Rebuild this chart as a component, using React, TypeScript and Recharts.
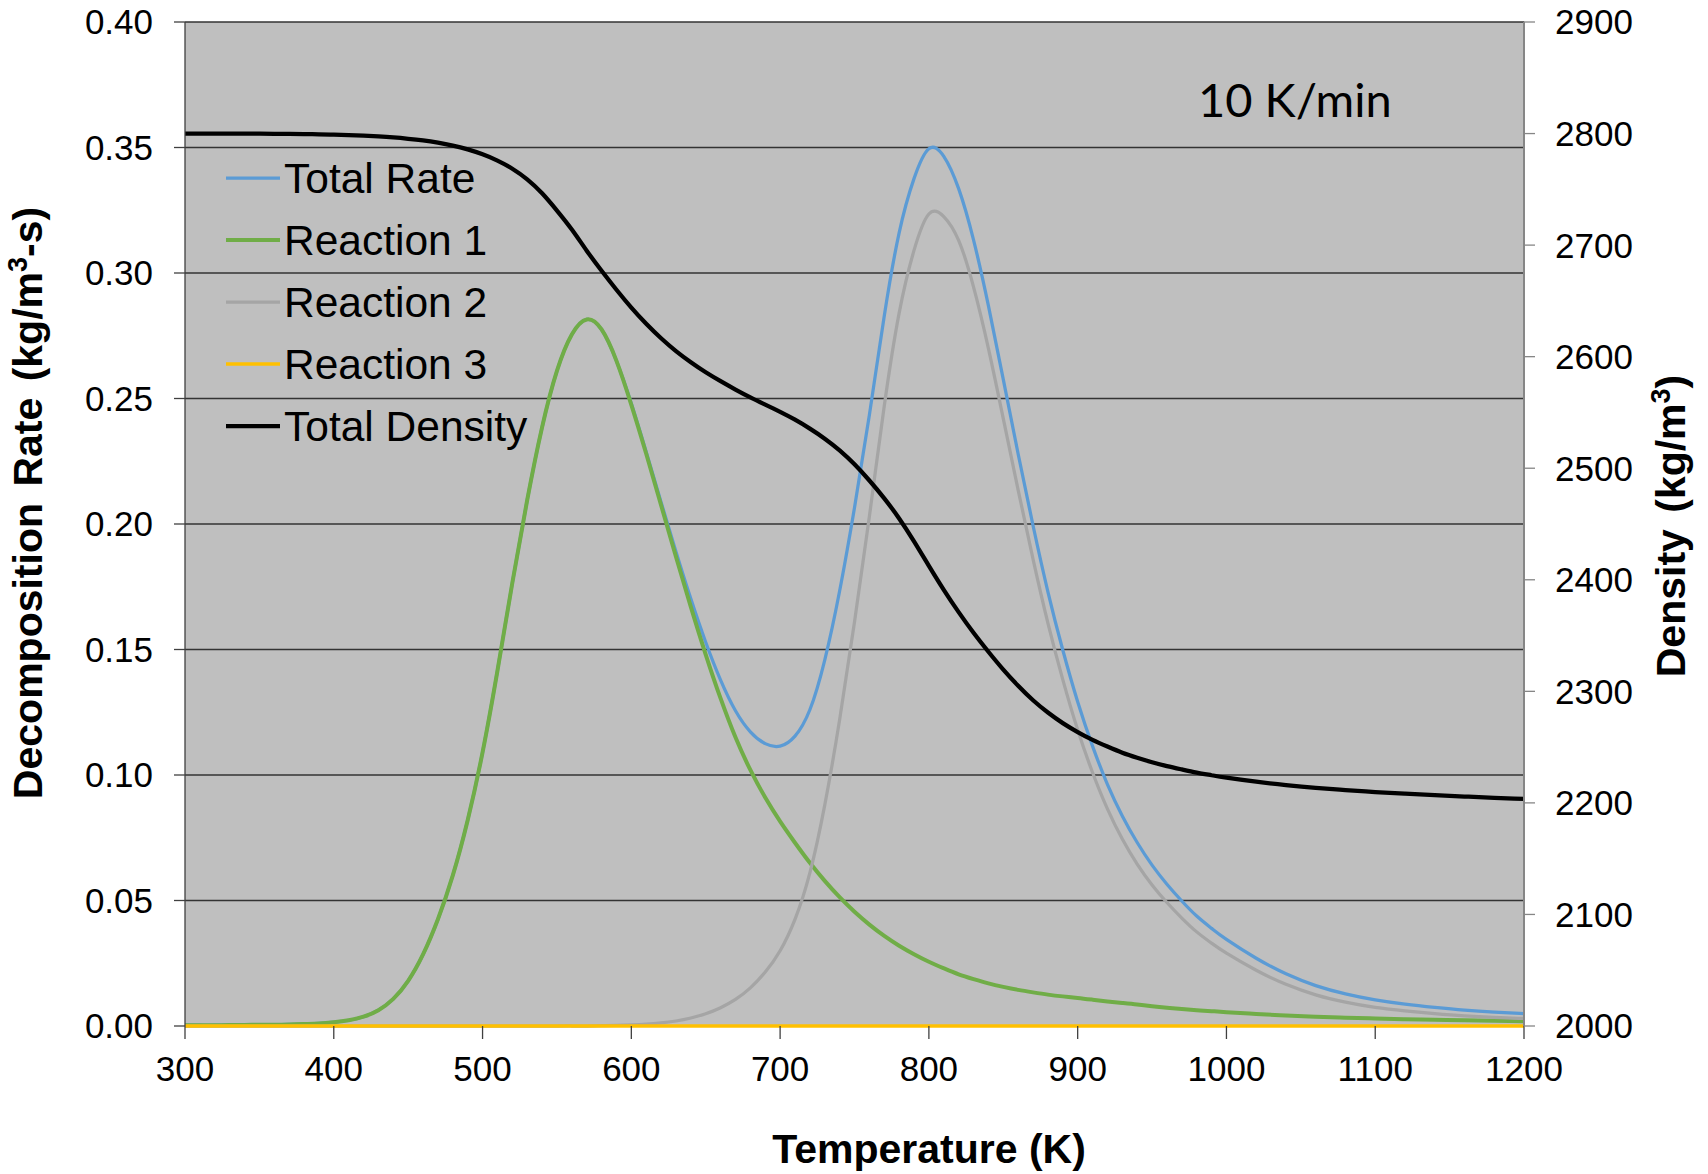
import { ComposedChart, Line, XAxis, YAxis, CartesianGrid, Label, Customized } from 'recharts'

// temperature grid (K)
const temps = [
  300, 310, 320, 330, 340, 350, 360, 370, 380, 390, 400, 410, 420, 430, 440, 450, 460, 470, 480, 490,
  500, 510, 520, 530, 540, 550, 560, 570, 580, 590, 600, 610, 620, 630, 640, 650, 660, 670, 680, 690,
  700, 710, 720, 730, 740, 750, 760, 770, 780, 790, 800, 810, 820, 830, 840, 850, 860, 870, 880, 890,
  900, 910, 920, 930, 940, 950, 960, 970, 980, 990, 1000, 1020, 1040, 1060, 1080, 1100, 1120, 1140,
  1160, 1180, 1200,
]

// kg/m3-s
const totalRate = [
  0.0003, 0.0003, 0.0003, 0.0004, 0.0004, 0.0005, 0.0005, 0.0006, 0.0008, 0.001, 0.0015, 0.0023, 0.0037,
  0.0063, 0.0108, 0.018, 0.0285, 0.0425, 0.06, 0.082, 0.109, 0.1415, 0.1765, 0.2095, 0.2385, 0.261, 0.2755,
  0.2815, 0.2775, 0.265, 0.248, 0.2287, 0.2087, 0.189, 0.1702, 0.1529, 0.1378, 0.1256, 0.1172, 0.1125,
  0.1115, 0.1155, 0.126, 0.1458, 0.1733, 0.2065, 0.2434, 0.2829, 0.316, 0.3376, 0.3495, 0.3465, 0.3336,
  0.3132, 0.287, 0.2576, 0.2279, 0.1994, 0.173, 0.1498, 0.1292, 0.1115, 0.0963, 0.0837, 0.0731, 0.0641,
  0.0565, 0.0498, 0.0438, 0.0389, 0.0345, 0.027, 0.0208, 0.0161, 0.0128, 0.0104, 0.0087, 0.0074, 0.0063,
  0.0055, 0.0049,
]

const reaction1 = [
  0.0003, 0.0003, 0.0003, 0.0004, 0.0004, 0.0005, 0.0005, 0.0006, 0.0008, 0.001, 0.0015, 0.0023, 0.0037,
  0.0063, 0.0108, 0.018, 0.0285, 0.0425, 0.06, 0.082, 0.109, 0.1415, 0.1765, 0.2095, 0.2385, 0.261, 0.2755,
  0.2815, 0.2775, 0.265, 0.2475, 0.228, 0.2075, 0.187, 0.167, 0.148, 0.1305, 0.115, 0.102, 0.091, 0.0815,
  0.073, 0.065, 0.0578, 0.0513, 0.0455, 0.0404, 0.0359, 0.032, 0.0286, 0.0256, 0.023, 0.0206, 0.0187,
  0.017, 0.0156, 0.0144, 0.0134, 0.0125, 0.0118, 0.0112, 0.0105, 0.0098, 0.0092, 0.0086, 0.0079, 0.0073,
  0.0068, 0.0063, 0.0059, 0.0055, 0.0048, 0.0042, 0.0037, 0.0033, 0.003, 0.0027, 0.0025, 0.0023, 0.0021,
  0.0019,
]

const reaction2 = [
  0, 0, 0, 0, 0, 0, 0, 0, 0, 0, 0, 0, 0, 0, 0, 0, 0, 0, 0, 0, 0, 0, 0, 0, 0, 0, 0, 0, 0.0001, 0.0002,
  0.0004, 0.0007, 0.0012, 0.002, 0.0032, 0.0049, 0.0073, 0.0106, 0.0152, 0.0215, 0.03, 0.0425, 0.061,
  0.088, 0.122, 0.161, 0.203, 0.247, 0.284, 0.309, 0.3235, 0.3225, 0.313, 0.2945, 0.27, 0.242, 0.2135,
  0.186, 0.1605, 0.138, 0.118, 0.101, 0.0865, 0.0745, 0.0645, 0.0562, 0.0492, 0.043, 0.0375, 0.033, 0.029,
  0.0222, 0.0166, 0.0124, 0.0095, 0.0074, 0.006, 0.0049, 0.004, 0.0034, 0.003,
]

const reaction3 = [
  0, 0, 0, 0, 0, 0, 0, 0, 0, 0, 0, 0, 0, 0, 0, 0, 0, 0, 0, 0, 0, 0, 0, 0, 0, 0, 0, 0, 0, 0, 0, 0, 0, 0,
  0, 0, 0, 0, 0, 0, 0, 0, 0, 0, 0, 0, 0, 0, 0, 0, 0, 0, 0, 0, 0, 0, 0, 0, 0, 0, 0, 0, 0, 0, 0, 0, 0, 0,
  0, 0, 0, 0, 0, 0, 0, 0, 0, 0, 0, 0, 0,
]

// kg/m3
const totalDensity = [
  2800, 2800, 2800, 2800, 2800, 2799.9, 2799.8, 2799.7, 2799.5, 2799.3, 2799, 2798.6, 2798.1, 2797.4,
  2796.5, 2795.3, 2793.8, 2791.8, 2789.2, 2785.8, 2781.4, 2775.8, 2768.5, 2759, 2746.5, 2731, 2714, 2695,
  2677, 2660, 2644, 2629.5, 2616.5, 2605, 2595, 2586, 2578, 2570.5, 2563.5, 2557, 2550.5, 2543.5, 2535.5,
  2526.5, 2516, 2503.5, 2489, 2473, 2455, 2434.5, 2412.5, 2391, 2371, 2352.5, 2335.5, 2319.5, 2305, 2292,
  2281, 2271.5, 2263.5, 2256.5, 2250.5, 2245, 2240.5, 2236.5, 2233, 2230, 2227.2, 2224.8, 2222.6, 2219,
  2216, 2213.5, 2211.5, 2209.7, 2208.2, 2206.9, 2205.7, 2204.6, 2203.6,
]

const xTicks = [300, 400, 500, 600, 700, 800, 900, 1000, 1100, 1200]
const rateTicks = [0, 0.05, 0.1, 0.15, 0.2, 0.25, 0.3, 0.35, 0.4]
const densityTicks = [2000, 2100, 2200, 2300, 2400, 2500, 2600, 2700, 2800, 2900]

const series = [
  { key: 'totalRate', name: 'Total Rate', color: '#5B9BD5', width: 3.25, axis: 'rate' },
  { key: 'reaction1', name: 'Reaction 1', color: '#70AD47', width: 4, axis: 'rate' },
  { key: 'reaction2', name: 'Reaction 2', color: '#A5A5A5', width: 3.25, axis: 'rate' },
  { key: 'reaction3', name: 'Reaction 3', color: '#FFC000', width: 3.5, axis: 'rate' },
  { key: 'totalDensity', name: 'Total Density', color: '#000000', width: 4.25, axis: 'density' },
]

const data = temps.map((t, i) => ({
  t,
  totalRate: totalRate[i],
  reaction1: reaction1[i],
  reaction2: reaction2[i],
  reaction3: reaction3[i],
  totalDensity: totalDensity[i],
}))

const FONT = '"Liberation Sans", Arial, sans-serif'
const tickStyle = { fontSize: 35, fill: '#000', fontFamily: FONT }

function LegendBox() {
  return (
    <g>
      {series.map((s, i) => {
        const y = 178 + i * 62
        return (
          <g key={s.key}>
            <line x1={226} x2={280} y1={y} y2={y} stroke={s.color} strokeWidth={s.width} />
            <text x={284} y={y} dy="0.355em" fontSize={42.5} fontFamily={FONT} fill="#000">
              {s.name}
            </text>
          </g>
        )
      })}
      <text x={1198} y={117} fontSize={47} fontFamily="Lato, 'Open Sans', sans-serif" fill="#000">
        10 K/min
      </text>
    </g>
  )
}

export default function App() {
  return (
    <div style={{ position: 'absolute', left: 0, top: 0, width: 1708, height: 1174, background: '#fff' }}>
      <ComposedChart width={1708} height={1174} data={data} margin={{ top: 22, right: 0, bottom: 0, left: 0 }}>
        <CartesianGrid
          yAxisId="rate"
          vertical={false}
          fill="#BFBFBF"
          fillOpacity={1}
          stroke="#333333"
          strokeWidth={1.3}
        />
        <XAxis
          dataKey="t"
          type="number"
          domain={[300, 1200]}
          ticks={xTicks}
          height={148}
          tick={tickStyle}
          tickSize={13}
          tickMargin={17}
          tickLine={{ stroke: '#404040', strokeWidth: 1.3 }}
          axisLine={false}
        >
          <Label
            content={() => (
              <text x={929} y={1163} textAnchor="middle" fontSize={41} fontWeight="bold" fontFamily={FONT} fill="#000">
                Temperature (K)
              </text>
            )}
          />
        </XAxis>
        <YAxis
          yAxisId="rate"
          width={185}
          domain={[0, 0.4]}
          ticks={rateTicks}
          tickFormatter={(v: number) => v.toFixed(2)}
          tick={tickStyle}
          tickSize={11}
          tickMargin={21}
          tickLine={{ stroke: '#404040', strokeWidth: 1.3 }}
          axisLine={{ stroke: '#404040', strokeWidth: 1.3 }}
        >
          <Label
            content={() => (
              <text
                transform="translate(42,503) rotate(-90)"
                textAnchor="middle"
                fontSize={41}
                fontWeight="bold"
                fontFamily={FONT}
                fill="#000"
                wordSpacing={5}
              >
                Decomposition Rate (kg/m
                <tspan fontSize={27} dy={-15}>3</tspan>
                <tspan dy={15}>-s)</tspan>
              </text>
            )}
          />
        </YAxis>
        <YAxis
          yAxisId="density"
          orientation="right"
          width={184}
          domain={[2000, 2900]}
          ticks={densityTicks}
          tick={tickStyle}
          tickSize={11}
          tickMargin={20}
          tickLine={{ stroke: '#868686', strokeWidth: 1.3 }}
          axisLine={{ stroke: '#868686', strokeWidth: 2 }}
        >
          <Label
            content={() => (
              <text
                transform="translate(1685,526) rotate(-90)"
                textAnchor="middle"
                fontSize={41}
                fontWeight="bold"
                fontFamily={FONT}
                fill="#000"
                wordSpacing={5}
              >
                Density (kg/m
                <tspan fontSize={27} dy={-15}>3</tspan>
                <tspan dy={15}>)</tspan>
              </text>
            )}
          />
        </YAxis>
        {series.map((s) => (
          <Line
            key={s.key}
            yAxisId={s.axis}
            dataKey={s.key}
            name={s.name}
            type="natural"
            stroke={s.color}
            strokeWidth={s.width}
            dot={false}
            activeDot={false}
            isAnimationActive={false}
          />
        ))}
        <Customized component={LegendBox} />
      </ComposedChart>
    </div>
  )
}
